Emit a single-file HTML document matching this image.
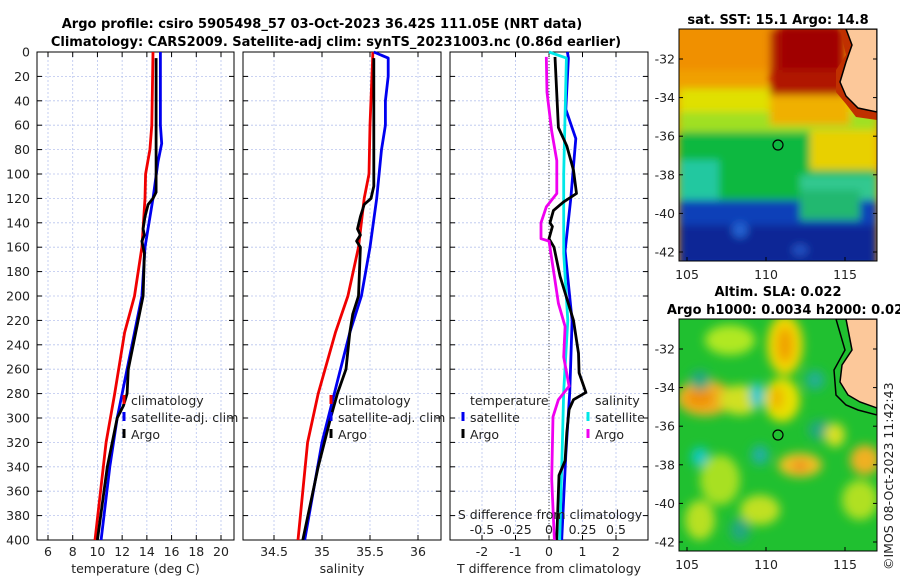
<!DOCTYPE html>
<html><head><meta charset="utf-8"><style>
body{margin:0;background:#fff;}
svg{display:block;font-family:"DejaVu Sans","Liberation Sans",sans-serif;}
.t{font-size:12.5px;fill:#222;}
.ttl{font-size:13px;font-weight:bold;fill:#000;}
</style></head><body>
<svg id="c" width="900" height="580" viewBox="0 0 900 580">
<defs>
<filter id="bl" x="-50%" y="-50%" width="200%" height="200%"><feGaussianBlur stdDeviation="5"/></filter>
<filter id="bl2" x="-50%" y="-50%" width="200%" height="200%"><feGaussianBlur stdDeviation="4"/></filter>
<clipPath id="m1c"><rect x="679" y="29" width="198" height="232"/></clipPath>
<clipPath id="m2c"><rect x="679" y="319" width="198" height="232"/></clipPath>
</defs>
<text class="ttl" x="322" y="28" text-anchor="middle">Argo profile: csiro 5905498_57 03-Oct-2023 36.42S 111.05E (NRT data)</text>
<text class="ttl" x="336" y="46" text-anchor="middle">Climatology: CARS2009. Satellite-adj clim: synTS_20231003.nc (0.86d earlier)</text>
<g id="p1"></g>
<g id="p2"></g>
<g id="p3"></g>

<text class="ttl" x="778" y="24" text-anchor="middle">sat. SST: 15.1 Argo: 14.8</text>
<g clip-path="url(#m1c)">
<rect x="679" y="29" width="198" height="232" fill="#f0a000"/>
<g filter="url(#bl2)">
<rect x="679" y="88" width="198" height="35" fill="#e0e000"/>
<rect x="679" y="112" width="198" height="25" fill="#a0e020"/>
<rect x="679" y="132" width="198" height="72" fill="#10b840"/>
<rect x="679" y="160" width="40" height="40" fill="#20c8a0"/>
<rect x="800" y="175" width="77" height="30" fill="#30c890"/>
<rect x="679" y="200" width="198" height="70" fill="#1040b8"/>
<rect x="679" y="225" width="198" height="40" fill="#0a2896"/>
<rect x="800" y="190" width="60" height="30" fill="#20b870"/>
<rect x="810" y="130" width="67" height="40" fill="#e8d000"/>
<rect x="770" y="29" width="75" height="70" fill="#b01800"/>
<rect x="780" y="25" width="60" height="45" fill="#a00000"/>
<rect x="670" y="25" width="100" height="45" fill="#f09000"/>
<rect x="770" y="95" width="80" height="30" fill="#f0b000"/>
<ellipse cx="740" cy="230" rx="8" ry="8" fill="#2060d0"/>
<ellipse cx="800" cy="250" rx="8" ry="6" fill="#2050c0"/>
</g>
<path d="M840,29 L877,29 L877,120 L856,117 L846,104 L836,92 L836,70 L846,55 Z" fill="#c03000"/>
<path d="M846,29 L877,29 L877,112 L858,108 L846,96 L840,82 L846,62 L852,45 Z" fill="#fcc89a" stroke="#000" stroke-width="1.5"/>
<circle cx="778" cy="145" r="5" fill="none" stroke="#000" stroke-width="1.2"/>
</g>
<rect x="679" y="29" width="198" height="232" fill="none" stroke="#000"/>

<text class="ttl" x="778" y="296" text-anchor="middle">Altim. SLA: 0.022</text>
<text class="ttl" x="785" y="314" text-anchor="middle">Argo h1000: 0.0034 h2000: 0.02</text>
<g clip-path="url(#m2c)">
<rect x="679" y="319" width="198" height="232" fill="#20c030"/>
<g filter="url(#bl)">
<ellipse cx="730" cy="340" rx="25" ry="15" fill="#b0e820"/>
<ellipse cx="785" cy="345" rx="18" ry="30" fill="#f0d800"/>
<ellipse cx="785" cy="345" rx="8" ry="18" fill="#f0a000"/>
<ellipse cx="705" cy="398" rx="28" ry="18" fill="#f0b020"/>
<ellipse cx="700" cy="398" rx="14" ry="9" fill="#f09000"/>
<ellipse cx="740" cy="400" rx="20" ry="15" fill="#d0e020"/>
<ellipse cx="782" cy="400" rx="18" ry="22" fill="#e8e000"/>
<ellipse cx="777" cy="398" rx="6" ry="12" fill="#f0b000"/>
<ellipse cx="757" cy="395" rx="7" ry="13" fill="#10c8d0"/>
<ellipse cx="700" cy="380" rx="10" ry="10" fill="#20a880"/>
<ellipse cx="700" cy="457" rx="9" ry="10" fill="#10c8c0"/>
<ellipse cx="760" cy="455" rx="9" ry="10" fill="#20b0a0"/>
<ellipse cx="815" cy="380" rx="10" ry="10" fill="#20b090"/>
<ellipse cx="820" cy="430" rx="12" ry="10" fill="#20a880"/>
<ellipse cx="800" cy="465" rx="22" ry="12" fill="#f0c020"/>
<ellipse cx="800" cy="466" rx="8" ry="6" fill="#f09020"/>
<ellipse cx="835" cy="435" rx="10" ry="12" fill="#d8e020"/>
<ellipse cx="865" cy="460" rx="15" ry="15" fill="#f0b020"/>
<ellipse cx="720" cy="480" rx="20" ry="25" fill="#a8e020"/>
<ellipse cx="860" cy="500" rx="18" ry="20" fill="#b0e020"/>
<ellipse cx="760" cy="510" rx="20" ry="15" fill="#c0e020"/>
<ellipse cx="740" cy="530" rx="10" ry="12" fill="#20a880"/>
<ellipse cx="700" cy="520" rx="15" ry="20" fill="#b8e020"/>
</g>
<path d="M836,319 L877,319 L877,415 L858,410 L846,405 L836,395 L834,370 L845,350 Z" fill="#20c030" stroke="#000" stroke-width="1.5"/>
<path d="M846,319 L877,319 L877,408 L860,402 L848,395 L840,382 L842,365 L852,350 Z" fill="#fcc89a" stroke="#000" stroke-width="1.5"/>
<circle cx="778" cy="435" r="5" fill="none" stroke="#000" stroke-width="1.2"/>
</g>
<rect x="679" y="319" width="198" height="232" fill="none" stroke="#000"/>
<g id="maxes"></g>
<text class="t" transform="translate(893,570) rotate(-90)" font-size="13">©IMOS 08-Oct-2023 11:42:43</text>
</svg>
<script>
// ---- data ----
const tClimDepth=[0,60,80,100,120,160,200,230,280,320,400];
const tClimVal=[14.5,14.4,14.25,13.9,13.85,13.6,13.0,12.2,11.4,10.7,9.8];
const tSatDepth=[0,60,75,90,120,160,200,230,260,300,340,400];
const tSatVal=[15.1,15.1,15.2,14.9,14.5,13.85,13.6,13.0,12.4,11.6,11.0,10.3];
const tArgoDepth=[5,115,120,125,135,145,150,155,165,200,230,260,280,290,300,340,400];
const tArgoVal=[14.75,14.75,14.5,14.1,13.85,13.7,13.8,13.6,13.8,13.7,13.1,12.5,12.4,12.1,11.6,10.8,10.0];
const sClimDepth=[0,60,100,120,160,200,230,280,320,400];
const sClimVal=[35.53,35.5,35.49,35.44,35.38,35.27,35.14,34.96,34.85,34.75];
const sSatDepth=[0,5,20,40,60,75,80,120,160,200,230,270,320,400];
const sSatVal=[35.54,35.69,35.69,35.66,35.66,35.63,35.62,35.57,35.5,35.41,35.29,35.16,35.0,34.82];
const sArgoDepth=[5,110,120,125,135,145,150,155,160,200,215,230,260,280,300,340,400];
const sArgoVal=[35.54,35.54,35.51,35.44,35.4,35.37,35.4,35.36,35.4,35.38,35.32,35.29,35.25,35.16,35.09,34.96,34.8];
const dTSatDepth=[0,5,47,71,120,163,220,278,330,400];
const dTSatVal=[0.55,0.58,0.5,0.8,0.65,0.48,0.69,0.62,0.5,0.38];
const dTArgoDepth=[4,62,77,97,116,123,130,140,143,153,160,184,220,247,263,279,285,293,312,335,347,400];
const dTArgoVal=[0.18,0.28,0.53,0.73,0.82,0.43,0.13,0.03,0.1,0.0,0.15,0.33,0.73,0.88,0.9,1.1,0.73,0.6,0.53,0.48,0.3,0.23];
const dSSatDepth=[0,5,100,165,220,278,320,400];
const dSSatVal=[0.0,0.13,0.11,0.11,0.14,0.11,0.1,0.08];
const dSArgoDepth=[4,33,65,89,116,127,140,153,155,184,206,225,250,274,285,299,350,400];
const dSArgoVal=[-0.02,-0.015,0.02,0.058,0.058,-0.02,-0.06,-0.06,0.0,0.04,0.07,0.12,0.11,0.15,0.07,0.03,0.02,0.04];
const depthTicks=[0,20,40,60,80,100,120,140,160,180,200,220,240,260,280,300,320,340,360,380,400];
const tTicks=[6,8,10,12,14,16,18,20];
const sTicks=[34.5,35,35.5,36];
const dTTicks=[-2,-1,0,1,2];
const dSTicks=[-0.5,-0.25,0,0.25,0.5];
const latTicks=[-32,-34,-36,-38,-40,-42];
const lonTicks=[105,110,115];
// ---- drawing ----
const NS='http://www.w3.org/2000/svg';
const Y0=52,Y1=540;
const yD=d=>Y0+d*(Y1-Y0)/400;
function lin(d0,d1,r0,r1){return v=>r0+(v-d0)*(r1-r0)/(d1-d0);}
function mk(tag,attrs,parent){const e=document.createElementNS(NS,tag);for(const k in attrs)e.setAttribute(k,attrs[k]);parent.appendChild(e);return e;}
function panel(g,x0,x1,xs,ticks,labelTxt,fmt){
  for(const t of ticks){const x=xs(t);
    const l=mk('line',{x1:x,x2:x,y1:Y0,y2:Y1,stroke:'#b8c4ee','stroke-width':0.8,'stroke-dasharray':'2,2'},g);
    
    mk('line',{x1:x,x2:x,y1:Y0,y2:Y0+5,stroke:'#000'},g);mk('line',{x1:x,x2:x,y1:Y1,y2:Y1-5,stroke:'#000'},g);
    const tx=mk('text',{x:x,y:556,'text-anchor':'middle',class:'t'},g);tx.textContent=fmt(t);
    }
  for(const d of depthTicks){const y=yD(d);
    if(d>0&&d<400){const l=mk('line',{x1:x0,x2:x1,y1:y,y2:y,stroke:'#b8c4ee','stroke-width':0.8,'stroke-dasharray':'2,2'},g);
    }
    mk('line',{x1:x0,x2:x0+5,y1:y,y2:y,stroke:'#000'},g);mk('line',{x1:x1,x2:x1-5,y1:y,y2:y,stroke:'#000'},g);}
  const r=mk('rect',{x:x0,y:Y0,width:x1-x0,height:Y1-Y0,fill:'none',stroke:'#000'},g);
  
  const lab=mk('text',{x:(x0+x1)/2,y:573,'text-anchor':'middle',class:'t'},g);lab.textContent=labelTxt;
  
}
function series(g,depths,vals,xs,color,name){
  const p=mk('polyline',{points:depths.map((d,i)=>xs(vals[i]).toFixed(1)+','+yD(d).toFixed(1)).join(' '),fill:'none',stroke:color,'stroke-width':2.8,'stroke-linejoin':'round'},g);
  
}
function legend(g,x,y,color,txt,name){
  if(color){mk('line',{x1:x,x2:x,y1:y-10,y2:y-1,stroke:color,'stroke-width':3},g);}
  const t=mk('text',{x:x+7,y:y,class:'t'},g);t.textContent=txt;
  
}
const p1=document.getElementById('p1'),p2=document.getElementById('p2'),p3=document.getElementById('p3');
const xT=lin(6,20,48,221);
panel(p1,37,234,xT,tTicks,'temperature (deg C)',v=>String(v));
for(const d of depthTicks){const t=mk('text',{x:30,y:yD(d)+4.5,'text-anchor':'end',class:'t'},p1);t.textContent=d;
  }
series(p1,tClimDepth,tClimVal,xT,'#f00000','temp-climatology-line');
series(p1,tSatDepth,tSatVal,xT,'#0000f0','temp-satellite-line');
series(p1,tArgoDepth,tArgoVal,xT,'#000','temp-argo-line');
legend(p1,124,405,'#f00000','climatology','legend-climatology');
legend(p1,124,422,'#0000f0','satellite-adj. clim','legend-satellite');
legend(p1,124,439,'#000','Argo','legend-argo');
const xS=lin(35,35.5,322,370);
panel(p2,243,441,xS,sTicks,'salinity',v=>String(v));
series(p2,sClimDepth,sClimVal,xS,'#f00000','sal-climatology-line');
series(p2,sSatDepth,sSatVal,xS,'#0000f0','sal-satellite-line');
series(p2,sArgoDepth,sArgoVal,xS,'#000','sal-argo-line');
legend(p2,331,405,'#f00000','climatology','legend-climatology-2');
legend(p2,331,422,'#0000f0','satellite-adj. clim','legend-satellite-2');
legend(p2,331,439,'#000','Argo','legend-argo-2');
const xDT=lin(0,1,549,582.5);
const xDS=lin(0,0.25,549,582.5);
panel(p3,450,648,xDT,dTTicks,'T difference from climatology',v=>String(v));
mk('line',{x1:549,x2:549,y1:Y0,y2:Y1,stroke:'#444','stroke-dasharray':'1,2'},p3);
series(p3,dTSatDepth,dTSatVal,xDT,'#0000f0','tdiff-satellite-line');
series(p3,dSSatDepth,dSSatVal,xDS,'#00e8e8','sdiff-satellite-line');
series(p3,dTArgoDepth,dTArgoVal,xDT,'#000','tdiff-argo-line');
series(p3,dSArgoDepth,dSArgoVal,xDS,'#f000f0','sdiff-argo-line');
legend(p3,463,405,null,'temperature','legend-temperature-heading');
legend(p3,463,422,'#0000f0','satellite','legend-tdiff-satellite');
legend(p3,463,439,'#000','Argo','legend-tdiff-argo');
legend(p3,588,405,null,'salinity','legend-salinity-heading');
legend(p3,588,422,'#00e8e8','satellite','legend-sdiff-satellite');
legend(p3,588,439,'#f000f0','Argo','legend-sdiff-argo');
{const t=mk('text',{x:550,y:519,'text-anchor':'middle',class:'t'},p3);t.textContent='S difference from climatology';
}
for(const s of dSTicks){const t=mk('text',{x:xDS(s),y:534,'text-anchor':'middle',class:'t'},p3);t.textContent=String(s);
  }
const ma=document.getElementById('maxes');
const xLon=lin(105,115,687,845);
function mapAxes(top,lat32y){
  const yL=lin(-32,-42,lat32y,lat32y+193);
  for(const la of latTicks){const y=yL(la);
    mk('line',{x1:679,x2:683,y1:y,y2:y,stroke:'#000'},ma);mk('line',{x1:877,x2:873,y1:y,y2:y,stroke:'#000'},ma);
    const t=mk('text',{x:675,y:y+4.5,'text-anchor':'end',class:'t'},ma);t.textContent=la;
    }
  for(const lo of lonTicks){const x=xLon(lo);
    mk('line',{x1:x,x2:x,y1:top+232,y2:top+228,stroke:'#000'},ma);
    const t=mk('text',{x:x,y:top+250,'text-anchor':'middle',class:'t'},ma);t.textContent=lo;
    }
}
mapAxes(29,59);
mapAxes(319,349);
</script>
</body></html>
